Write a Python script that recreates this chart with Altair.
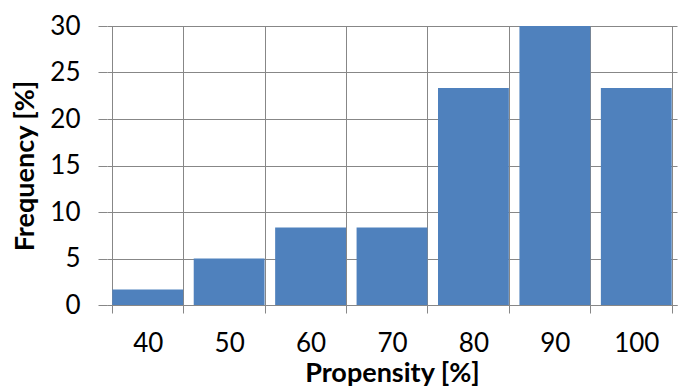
import altair as alt
import pandas as pd

propensity = ["40", "50", "60", "70", "80", "90", "100"]
frequency = [1.67, 5.0, 8.33, 8.33, 23.33, 30.0, 23.33]

df = pd.DataFrame({"Propensity": propensity, "Frequency": frequency})

FONT = "Lato"
GRID = "#878787"

chart = alt.Chart(df).mark_bar(color="#4F81BD").encode(
    x=alt.X(
        "Propensity:N",
        sort=propensity,
        scale=alt.Scale(paddingInner=0.13, paddingOuter=0.065),
        axis=alt.Axis(
            title="Propensity [%]",
            labelAngle=0,
            tickBand="extent",
            grid=True,
            gridColor=GRID,
            gridWidth=1,
            domainColor=GRID,
            tickColor=GRID,
            tickSize=8,
            labelPadding=17,
            labelFontSize=26,
            labelFont=FONT,
            labelColor="black",
            titleFont=FONT,
            titleFontSize=27,
            titleFontWeight="bold",
            titleColor="black",
            titlePadding=4,
        ),
    ),
    y=alt.Y(
        "Frequency:Q",
        scale=alt.Scale(domain=[0, 30], nice=False),
        axis=alt.Axis(
            title="Frequency [%]",
            values=[0, 5, 10, 15, 20, 25, 30],
            grid=True,
            gridColor=GRID,
            gridWidth=1,
            domain=False,
            tickColor=GRID,
            tickSize=9,
            labelPadding=18,
            labelFontSize=26,
            labelFont=FONT,
            labelColor="black",
            titleFont=FONT,
            titleFontSize=27,
            titleFontWeight="bold",
            titleColor="black",
            titlePadding=10,
        ),
    ),
).properties(
    width=570,
    height=279,
    autosize=alt.AutoSizeParams(type="none"),
    padding={"left": 99, "top": 18, "right": 15, "bottom": 84},
).configure_view(stroke=None)

chart.save("out.html", embed_options={"renderer": "svg", "actions": False})
